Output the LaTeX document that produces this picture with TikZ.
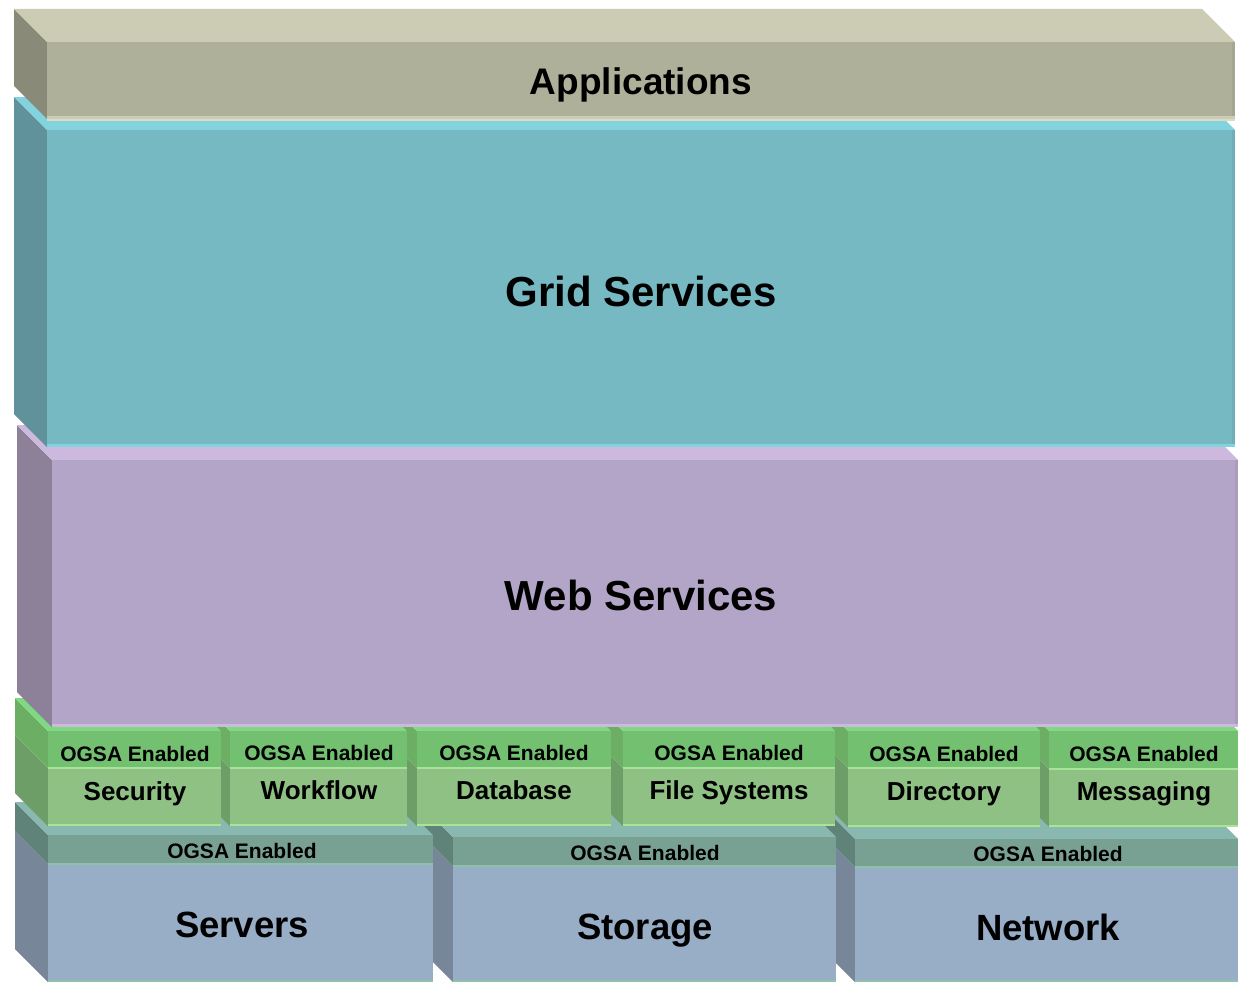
\documentclass[tikz,border=0pt]{standalone}
\usepackage{fontspec}
\setmainfont{Liberation Sans}

% layer colours
\definecolor{appfront}{HTML}{AFB09A}
\definecolor{apptop}{HTML}{CCCCB4}
\definecolor{appside}{HTML}{8A8A78}
\definecolor{appedge}{HTML}{DCDCC6}
\definecolor{gridfront}{HTML}{76B9C3}
\definecolor{gridtop}{HTML}{82D3DD}
\definecolor{gridside}{HTML}{5F929A}
\definecolor{webfront}{HTML}{B3A5C7}
\definecolor{webtop}{HTML}{CCB9DD}
\definecolor{webside}{HTML}{8D8099}
\definecolor{gfront}{HTML}{8FC185}
\definecolor{gband}{HTML}{72C070}
\definecolor{gtop}{HTML}{80D880}
\definecolor{gsideband}{HTML}{6CAE64}
\definecolor{gside}{HTML}{6E9E68}
\definecolor{gedge}{HTML}{A6E49A}
\definecolor{bfront}{HTML}{98AEC7}
\definecolor{bband}{HTML}{79A193}
\definecolor{btop}{HTML}{88B8B0}
\definecolor{bsideband}{HTML}{5F8279}
\definecolor{bside}{HTML}{778699}
\definecolor{bedge}{HTML}{8EC0AA}

% plain slab: x1 y1 x2 y2 depth front top side
\newcommand\slab[8]{%
  \fill[#8] (#1,#2) -- (#1-#5,#2-#5) -- (#1-#5,#4-#5) -- (#1,#4) -- cycle;
  \fill[#7] (#1,#2) -- (#1-#5,#2-#5) -- (#3-#5,#2-#5) -- (#3,#2) -- cycle;
  \fill[#6] (#1,#2) rectangle (#3,#4);
  \fill[#8!25!#6] (#3-3,#2) rectangle (#3,#4);
  \fill[#7] (#1,#4-3) rectangle (#3,#4);
}
% slab with a label band on top of its front: x1 y1 x2 y2 bandbottom colourprefix
\newcommand\bandslab[6]{%
  \fill[#6side] (#1,#5) -- (#1-33,#5-33) -- (#1-33,#4-33) -- (#1,#4) -- cycle;
  \fill[#6sideband] (#1,#2) -- (#1-33,#2-33) -- (#1-33,#5-33) -- (#1,#5) -- cycle;
  \fill[#6top] (#1,#2) -- (#1-33,#2-33) -- (#3-33,#2-33) -- (#3,#2) -- cycle;
  \fill[#6band] (#1,#2) rectangle (#3,#5);
  \fill[#6front] (#1,#5) rectangle (#3,#4);
  \draw[#6edge,line width=1.6pt] (#1,#5) -- (#3,#5);
  \draw[#6edge,line width=1.6pt] (#1,#4-1) -- (#3,#4-1);
}

\tikzset{
  bigtext/.style={font=\bfseries\fontsize{42}{46}\selectfont, inner sep=0pt, anchor=base},
  apptext/.style={font=\bfseries\fontsize{37}{40}\selectfont, inner sep=0pt, anchor=base},
  basetext/.style={font=\bfseries\fontsize{36.5}{40}\selectfont, inner sep=0pt, anchor=base},
  svctext/.style={font=\bfseries\fontsize{26}{30}\selectfont, inner sep=0pt, anchor=base},
  ogsatext/.style={font=\bfseries\fontsize{21}{24}\selectfont, inner sep=0pt, anchor=base},
}

\begin{document}
\begin{tikzpicture}[x=1pt,y=-1pt]
\useasboundingbox (0,0) rectangle (1240,982);

% resource layer (drawn right to left so each front hides the next side)
\bandslab{855}{839}{1238}{982}{867}{b}
\bandslab{453}{837}{836}{982}{866}{b}
\bandslab{48}{835}{433}{982}{864}{b}

% OGSA enabled services
\bandslab{1049}{731}{1238}{827}{769}{g}
\bandslab{848}{731}{1040}{827}{768}{g}
\bandslab{623}{731}{835}{826}{768}{g}
\bandslab{417}{731}{611}{826}{768}{g}
\bandslab{230}{731}{407}{826}{768}{g}
\bandslab{48}{731}{221}{826}{768}{g}

% web services
\slab{52}{460}{1238}{727}{35}{webfront}{webtop}{webside}

% grid services
\slab{47}{130}{1235}{447}{33}{gridfront}{gridtop}{gridside}

% applications
\slab{47}{42}{1235}{119}{33}{appfront}{apptop}{appside}
\draw[appedge,line width=2pt] (47,120) -- (1235,120);

% labels
\node[apptext] (apps) at (641,95) {Applications};
\node[bigtext] (grid) at (641,306) {Grid Services};
\node[bigtext] (web) at (641,610) {Web Services};

\node[ogsatext] (o1) at (135,761) {OGSA Enabled};
\node[ogsatext] (o2) at (319,760) {OGSA Enabled};
\node[ogsatext] (o3) at (514,760) {OGSA Enabled};
\node[ogsatext] (o4) at (729,760) {OGSA Enabled};
\node[ogsatext] (o5) at (944,761) {OGSA Enabled};
\node[ogsatext] (o6) at (1144,761) {OGSA Enabled};

\node[svctext] (sec) at (135,800) {Security};
\node[svctext] (wf) at (319,799) {Workflow};
\node[svctext] (db) at (514,799) {Database};
\node[svctext] (fs) at (729,799) {File Systems};
\node[svctext] (dir) at (944,800) {Directory};
\node[svctext] (msg) at (1144,800) {Messaging};

\node[ogsatext] (b1) at (242,858) {OGSA Enabled};
\node[ogsatext] (b2) at (645,860) {OGSA Enabled};
\node[ogsatext] (b3) at (1048,861) {OGSA Enabled};

\node[basetext] (srv) at (242,937) {Servers};
\node[basetext] (sto) at (645,939) {Storage};
\node[basetext] (net) at (1048,940) {Network};
\end{tikzpicture}
\end{document}
